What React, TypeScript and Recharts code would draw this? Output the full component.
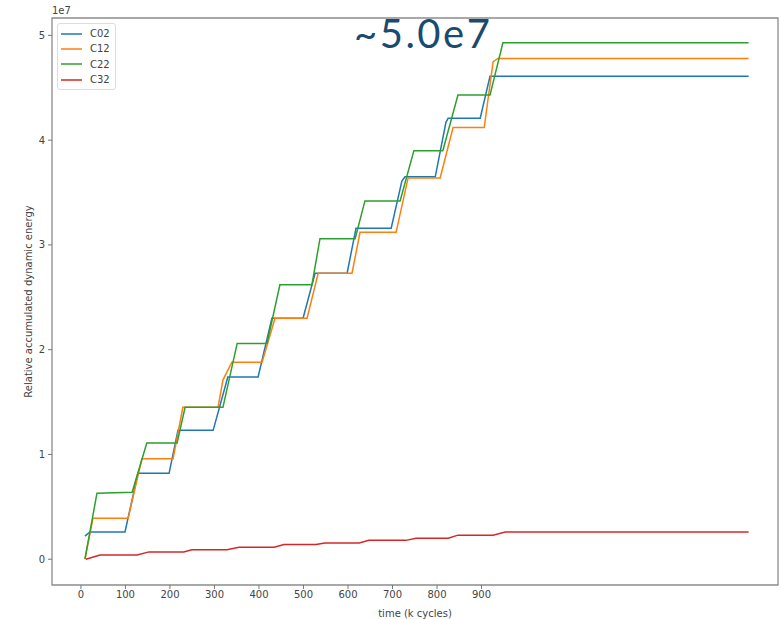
import { LineChart, Line, XAxis, YAxis, Legend, ReferenceArea, Label } from 'recharts';

// time in k cycles, energy in units of 1e7
const c02Time = [9, 20, 99, 128, 198, 218, 297, 330, 398, 429, 499, 526, 598, 618, 697, 721, 728, 796, 820, 825, 897, 919, 1500];
const c02Energy = [0.22, 0.26, 0.26, 0.82, 0.82, 1.23, 1.23, 1.74, 1.74, 2.3, 2.3, 2.73, 2.73, 3.16, 3.16, 3.61, 3.65, 3.65, 4.17, 4.21, 4.21, 4.61, 4.61];

const c12Time = [9, 27, 106, 137, 207, 229, 308, 319, 339, 407, 436, 508, 533, 609, 627, 708, 735, 807, 836, 906, 926, 937, 1500];
const c12Energy = [0, 0.39, 0.39, 0.96, 0.96, 1.45, 1.45, 1.71, 1.88, 1.88, 2.3, 2.3, 2.73, 2.73, 3.12, 3.12, 3.64, 3.64, 4.12, 4.12, 4.75, 4.78, 4.78];

const c22Time = [9, 36, 115, 148, 216, 234, 319, 351, 418, 447, 519, 537, 616, 638, 717, 748, 813, 847, 919, 948, 1500];
const c22Energy = [0, 0.63, 0.64, 1.11, 1.11, 1.45, 1.45, 2.06, 2.06, 2.62, 2.62, 3.06, 3.06, 3.42, 3.42, 3.9, 3.9, 4.43, 4.43, 4.93, 4.93];

const c32Time = [11, 43, 126, 153, 231, 249, 328, 355, 434, 456, 528, 548, 625, 647, 730, 753, 825, 847, 926, 953, 1500];
const c32Energy = [0, 0.04, 0.04, 0.07, 0.07, 0.09, 0.09, 0.115, 0.115, 0.14, 0.14, 0.155, 0.155, 0.18, 0.18, 0.2, 0.2, 0.23, 0.23, 0.26, 0.26];

const xTicks = [0, 100, 200, 300, 400, 500, 600, 700, 800, 900];
const yTicks = [0, 1, 2, 3, 4, 5];

const X_DOMAIN: [number, number] = [-65, 1566];
const Y_DOMAIN: [number, number] = [-0.246, 5.166];

const zip = (t: number[], e: number[]) => t.map((v, i) => ({ t: v, e: e[i] }));

const series = [
  { name: 'C02', color: '#1f77b4', data: zip(c02Time, c02Energy) },
  { name: 'C12', color: '#ff7f0e', data: zip(c12Time, c12Energy) },
  { name: 'C22', color: '#2ca02c', data: zip(c22Time, c22Energy) },
  { name: 'C32', color: '#d62728', data: zip(c32Time, c32Energy) },
];

const FONT = '"DejaVu Sans", sans-serif';
const TEXT = '#444';

const renderLegend = () => (
  <div
    style={{
      border: '1px solid #ddd',
      borderRadius: 3,
      background: 'rgba(255,255,255,0.85)',
      padding: '2px 5px 2px 3px',
      fontFamily: FONT,
      fontSize: 10,
      color: TEXT,
    }}
  >
    {series.map(s => (
      <div key={s.name} style={{ display: 'flex', alignItems: 'center', height: 15.3 }}>
        <svg width={21} height={4} style={{ marginRight: 8 }}>
          <line x1={0} y1={2} x2={21} y2={2} stroke={s.color} strokeWidth={1.5} />
        </svg>
        <span>{s.name}</span>
      </div>
    ))}
  </div>
);

export default function App() {
  return (
    <div style={{ position: 'absolute', left: 0, top: 0, width: 781, height: 619, background: '#fff' }}>
      <LineChart width={781} height={619} margin={{ top: 18, right: 3, bottom: 0, left: 0 }}>
        <XAxis
          type="number"
          dataKey="t"
          domain={X_DOMAIN}
          ticks={xTicks}
          allowDataOverflow
          height={34}
          axisLine={false}
          tickSize={4}
          tickMargin={2}
          tickLine={{ stroke: '#777' }}
          tick={{ fontSize: 10, fill: TEXT, fontFamily: FONT }}
        >
          <Label
            value="time (k cycles)"
            position="insideBottom"
            offset={2}
            style={{ fontSize: 10, fill: TEXT, fontFamily: FONT }}
          />
        </XAxis>
        <YAxis
          type="number"
          dataKey="e"
          domain={Y_DOMAIN}
          ticks={yTicks}
          allowDataOverflow
          width={52}
          axisLine={false}
          tickSize={4}
          tickMargin={3}
          tickLine={{ stroke: '#777' }}
          tick={{ fontSize: 10, fill: TEXT, fontFamily: FONT }}
        >
          <Label
            content={({ viewBox }: any) => {
              const cx = viewBox.x + 28;
              const cy = viewBox.y + viewBox.height / 2;
              return (
                <text
                  x={cx}
                  y={cy}
                  transform={`rotate(-90 ${cx} ${cy})`}
                  textAnchor="middle"
                  dominantBaseline="central"
                  style={{ fontSize: 10, fill: TEXT, fontFamily: FONT }}
                >
                  Relative accumulated dynamic energy
                </text>
              );
            }}
          />
        </YAxis>
        <ReferenceArea
          x1={X_DOMAIN[0]}
          x2={X_DOMAIN[1]}
          y1={Y_DOMAIN[0]}
          y2={Y_DOMAIN[1]}
          fill="none"
          stroke="#8c8c8c"
          strokeWidth={1.3}
          ifOverflow="visible"
        />
        {series.map(s => (
          <Line
            key={s.name}
            data={s.data}
            dataKey="e"
            name={s.name}
            type="linear"
            stroke={s.color}
            strokeWidth={1.5}
            dot={false}
            activeDot={false}
            isAnimationActive={false}
          />
        ))}
        <Legend
          layout="vertical"
          align="center"
          verticalAlign="middle"
          content={renderLegend}
          wrapperStyle={{ left: 57, top: 23, width: 'auto', height: 'auto' }}
        />
      </LineChart>
      <div
        style={{
          position: 'absolute',
          left: 52,
          top: 5,
          fontFamily: FONT,
          fontSize: 10,
          color: TEXT,
        }}
      >
        1e7
      </div>
      <div
        style={{
          position: 'absolute',
          left: 354,
          top: 13,
          fontFamily: 'Lato, sans-serif',
          fontSize: 40,
          lineHeight: '40px',
          letterSpacing: 2.5,
          color: '#1a4a6f',
        }}
      >
        ~5.0e7
      </div>
    </div>
  );
}
